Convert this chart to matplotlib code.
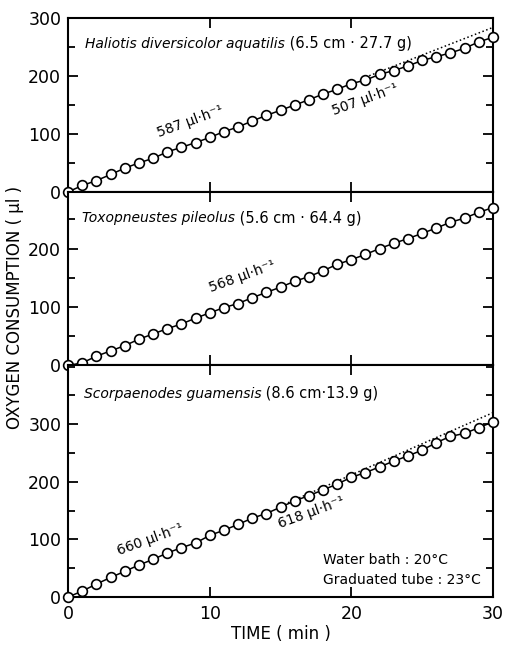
import numpy as np
from matplotlib import pyplot as plt
from matplotlib.ticker import MultipleLocator

# time axis (min), one reading each minute
t = list(range(31))

# Haliotis diversicolor aquatilis
y_hal = [0, 11, 19.5, 30, 41, 50, 58, 69, 77, 85, 94, 104, 112, 122.5, 132, 141,
         150, 159, 169, 177, 187, 193, 203, 209.5, 217.5, 227, 233.5, 240, 248, 259, 267]
# Toxopneustes pileolus
y_tox = [0, 4.5, 16, 25, 34, 45, 54, 63, 71, 81, 90, 99, 106, 116, 125, 134,
         144, 152, 162, 173, 181, 190, 200, 209, 217, 226, 235, 245, 252, 262, 270]
# Scorpaenodes guamensis
y_sco = [0, 10.4, 22.6, 34, 44.6, 55.6, 65.4, 76.4, 85.7, 93.8, 107, 116, 126, 137, 145, 156,
         167, 176, 186, 196, 208, 216, 226, 236, 245, 255, 268, 279, 284, 294, 304]

# dotted extrapolation of the initial rate
dot_hal_t = [21, 30]
dot_hal_y = [198, 284]
dot_sco_t = [15, 30]
dot_sco_y = [158, 320]

titles = ['Haliotis diversicolor aquatilis', 'Toxopneustes pileolus', 'Scorpaenodes guamensis']
sizes = [' (6.5 cm \u00b7 27.7 g)', ' (5.6 cm \u00b7 64.4 g)', ' (8.6 cm\u00b713.9 g)']
ymax = [300, 297, 402]
yticks = [[0, 100, 200, 300], [0, 100, 200], [0, 100, 200, 300]]

plt.rcParams['font.family'] = ['DejaVu Sans']

fig = plt.figure(figsize=(5.05, 6.5), dpi=100)
gs = fig.add_gridspec(3, 1, height_ratios=[300, 300, 400], hspace=0,
                      left=0.135, right=0.976, bottom=0.0815, top=0.972)
axes = [fig.add_subplot(gs[i]) for i in range(3)]

series = [y_hal, y_tox, y_sco]
for i, ax in enumerate(axes):
    ax.plot(t, series[i], '-o', color='black', lw=1.1, ms=7,
            mfc='white', mec='black', mew=1.2, clip_on=False, zorder=3)
    ax.set_xlim(0, 30)
    ax.set_ylim(0, ymax[i])
    ax.xaxis.set_major_locator(MultipleLocator(10))
    ax.yaxis.set_minor_locator(MultipleLocator(50))
    ax.set_yticks(yticks[i])
    ax.tick_params(which='both', direction='in', top=True, right=True, width=1.3)
    ax.tick_params(which='major', length=7, labelsize=12.5)
    ax.tick_params(axis='y', which='major', pad=5)
    ax.tick_params(axis='x', which='major', pad=6)
    ax.tick_params(which='minor', length=5)
    for s in ax.spines.values():
        s.set_linewidth(1.5)
    if i < 2:
        ax.tick_params(labelbottom=False)

# panel titles: italic name + normal size/weight
title_pos = [(1.2, 256), (1.0, 252), (1.1, 353)]
fig.canvas.draw()
for i, ax in enumerate(axes):
    x0, y0 = title_pos[i]
    tx = ax.text(x0, y0, titles[i], style='italic', fontsize=10, va='center')
    bb = tx.get_window_extent(renderer=fig.canvas.get_renderer())
    x1 = ax.transData.inverted().transform((bb.x1, bb.y0))[0]
    ax.text(x1, y0, sizes[i], fontsize=10.5, va='center')

axes[0].plot(dot_hal_t, dot_hal_y, ':', color='black', lw=1.1)
axes[2].plot(dot_sco_t, dot_sco_y, ':', color='black', lw=1.1)

rate_kw = dict(rotation=20, ha='center', va='center', fontsize=10)
axes[0].text(8.6, 122, '587 \u00b5l\u00b7h\u207b\u00b9', **rate_kw)
axes[0].text(21.0, 160, '507 \u00b5l\u00b7h\u207b\u00b9', **rate_kw)
axes[1].text(12.3, 152, '568 \u00b5l\u00b7h\u207b\u00b9', **rate_kw)
axes[2].text(5.8, 100, '660 \u00b5l\u00b7h\u207b\u00b9', **rate_kw)
axes[2].text(17.2, 147, '618 \u00b5l\u00b7h\u207b\u00b9', **rate_kw)

axes[2].text(18.0, 64, 'Water bath : 20\u00b0C', fontsize=10, va='center')
axes[2].text(18.0, 29, 'Graduated tube : 23\u00b0C', fontsize=10, va='center')

axes[2].set_xlabel('TIME ( min )', fontsize=12, labelpad=1)
fig.text(0.03, 0.527, 'OXYGEN CONSUMPTION ( \u00b5l )', rotation=90, fontsize=12,
         ha='center', va='center')

plt.savefig('out.png', dpi=100)
